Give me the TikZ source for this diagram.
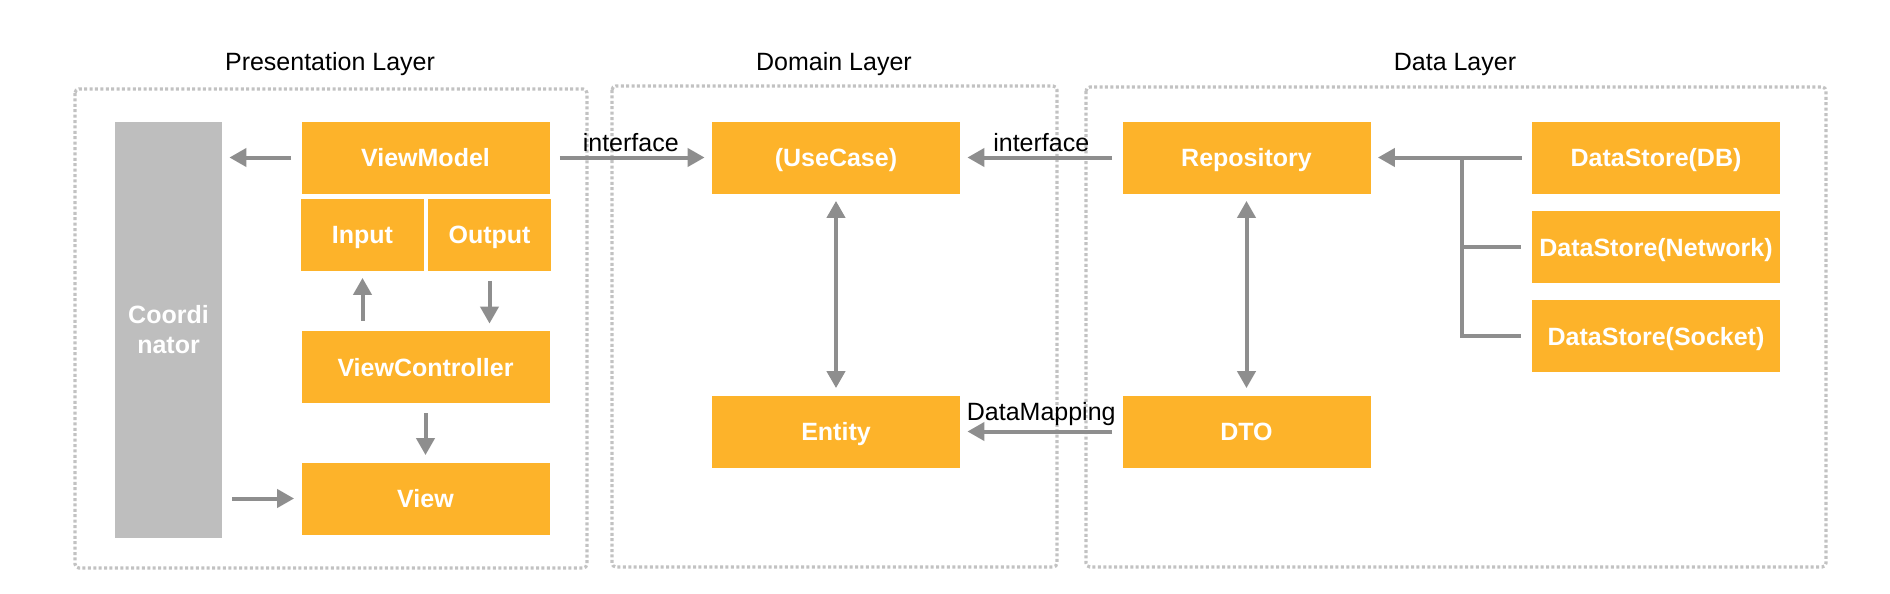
\documentclass[tikz,border=0pt]{standalone}
\usepackage{fontspec}
\setmainfont{Liberation Sans}
\usetikzlibrary{arrows.meta}
\definecolor{boxorange}{HTML}{FDB32A}
\definecolor{coordgray}{HTML}{BEBEBE}
\definecolor{arrowgray}{HTML}{8E8E8E}
\definecolor{framegray}{HTML}{C2C2C2}

\begin{document}
\begin{tikzpicture}[x=0.5pt, y=-0.5pt,
    block/.style={fill=boxorange, text=white, font=\bfseries\fontsize{12.5}{15}\selectfont,
        minimum width=124pt, minimum height=36pt, inner sep=0pt, text height=9pt, text depth=0pt},
    halfblock/.style={block, minimum width=61.5pt},
    layer/.style={draw=framegray, line width=1.6pt, dash pattern=on 1.5pt off 1.2pt, rounded corners=2pt},
    title/.style={font=\fontsize{12.5}{15}\selectfont},
    lbl/.style={font=\fontsize{12.5}{15}\selectfont, inner sep=2pt},
    arr/.style={draw=arrowgray, line width=2pt, -{Triangle[length=8.5pt, width=9pt]},
        shorten <=5pt, shorten >=3.5pt},
    arrboth/.style={arr, {Triangle[length=8.5pt, width=9pt]}-{Triangle[length=8.5pt, width=9pt]},
        shorten <=3.5pt},
    link/.style={draw=arrowgray, line width=2pt, shorten >=5.5pt}]
            \useasboundingbox (0,0) rectangle (1890,594);

            % layers
            \draw[layer] (75,89) rectangle (587,568);
            \draw[layer] (612,86) rectangle (1057,567);
            \draw[layer] (1086,87) rectangle (1826,567);
            \node[title] (tpres) at (330,64) {Presentation Layer};
            \node[title] (tdom) at (834,64) {Domain Layer};
            \node[title] (tdata) at (1455,64) {Data Layer};

            % presentation
            \node[block, fill=coordgray, minimum width=53.5pt, minimum height=208pt, align=center,
                text height=, text depth=] (coord) at (168.5,330) {Coordi\\nator};
            \node[block] (viewmodel) at (425.5,157.5) {ViewModel};
            \node[halfblock] (input) at (362.5,234.5) {Input};
            \node[halfblock] (output) at (489.5,234.5) {Output};
            \node[block] (viewcontroller) at (425.5,367) {ViewController};
            \node[block] (view) at (425.5,498.5) {View};

            % domain
            \node[block] (usecase) at (836,157.5) {(UseCase)};
            \node[block] (entity) at (836,431.5) {Entity};

            % data
            \node[block] (repository) at (1246.5,157.5) {Repository};
            \node[block] (dto) at (1246.5,431.5) {DTO};
            \node[block] (dsdb) at (1656,157.5) {DataStore(DB)};
            \node[block] (dsnet) at (1656,247) {DataStore(Network)};
            \node[block] (dssock) at (1656,336) {DataStore(Socket)};
            \coordinate (fork) at (1462,157.5);

            \draw[arr] (viewmodel.west) -- (viewmodel.west -| coord.east);
            \draw[arr] (coord.east |- view.west) -- (view.west);
            \draw[arr] (viewcontroller.north -| input.south) -- (input.south);
            \draw[arr] (output.south) -- (viewcontroller.north -| output.south);
            \draw[arr] (viewcontroller) -- (view);
            \draw[arr] (viewmodel.east) -- node[lbl, above] (ifleft) {interface} (usecase.west);
            \draw[arr] (repository.west) -- node[lbl, above] (ifright) {interface} (usecase.east);
            \draw[arr] (dto.west) -- node[lbl, above] (mapping) {DataMapping} (entity.east);
            \draw[arrboth] (usecase) -- (entity);
            \draw[arrboth] (repository) -- (dto);
            \draw[arr] (dsdb.west) -- (repository.east);
            \draw[link] (fork) |- (dsnet.west);
            \draw[link] (fork) |- (dssock.west);
        \end{tikzpicture}
\end{document}
